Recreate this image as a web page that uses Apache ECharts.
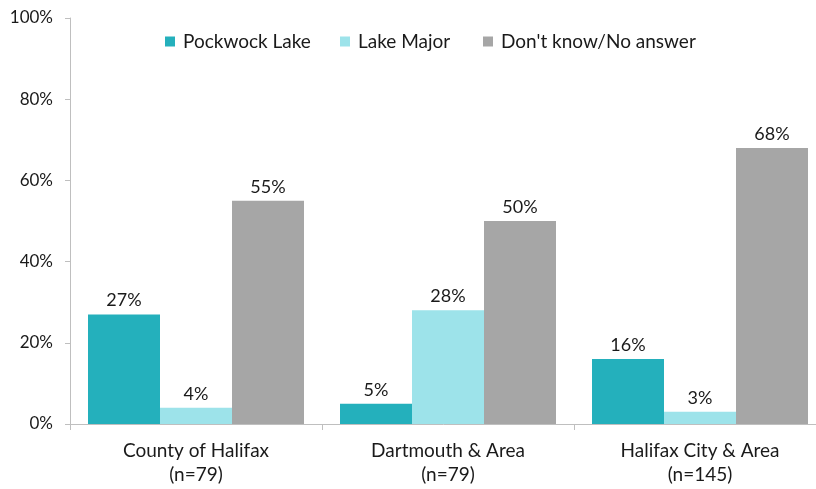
<!DOCTYPE html>
<html>
<head>
<meta charset="utf-8">
<script src="https://cdn.jsdelivr.net/npm/echarts@6/dist/echarts.min.js"></script>
<style>
  html, body { margin: 0; padding: 0; background: #fff; }
  #chart { width: 816px; height: 489px; }
</style>
</head>
<body>
<div id="chart"></div>
<script>
// Water source by area: share of respondents naming each lake
const categories = ['County of Halifax\n(n=79)', 'Dartmouth & Area\n(n=79)', 'Halifax City & Area\n(n=145)'];
const seriesNames = ['Pockwock Lake', 'Lake Major', "Don't know/No answer"];
const pockwock = [27, 5, 16];
const lakeMajor = [4, 28, 3];
const dontKnow = [55, 50, 68];
const yTicks = [0, 20, 40, 60, 80, 100];

const colors = ['#24B0BC', '#9DE3EA', '#A6A6A6'];
const font = 'Lato, "Open Sans", sans-serif';
const textColor = '#1a1a1a';
const fontSize = 18;
const wordSize = 19;

const chart = echarts.init(document.getElementById('chart'), null, { renderer: 'canvas' });

function barSeries(name, data, color) {
  return {
    name: name,
    type: 'bar',
    data: data,
    barGap: '0%',
    barCategoryGap: '14.29%',
    itemStyle: { color: color },
    label: {
      show: true,
      position: 'top',
      distance: 5,
      formatter: p => p.value + '%',
      color: textColor,
      fontFamily: font,
      fontSize: fontSize
    }
  };
}

// one legend block per series so each entry sits at its own spot
const legendLefts = [165, 340, 483];
const legends = seriesNames.map((name, i) => ({
  data: [name],
  top: 32,
  left: legendLefts[i],
  padding: 0,
  itemWidth: 10,
  itemHeight: 10,
  itemGap: 0,
  icon: 'rect',
  textStyle: { color: textColor, fontFamily: font, fontSize: wordSize, padding: [0, 0, 0, 3] }
}));

chart.setOption({
  animation: false,
  backgroundColor: '#ffffff',
  grid: { left: 70, width: 756, top: 18, bottom: 65, outerBoundsMode: 'none', containLabel: false },
  legend: legends,
  xAxis: {
    type: 'category',
    data: categories,
    axisLine: { lineStyle: { color: '#BFBFBF', width: 1 } },
    axisTick: { show: true, length: 6, lineStyle: { color: '#BFBFBF' } },
    axisLabel: {
      color: textColor,
      fontFamily: font,
      fontSize: wordSize,
      lineHeight: 24,
      margin: 15
    }
  },
  yAxis: {
    type: 'value',
    min: yTicks[0],
    max: yTicks[yTicks.length - 1],
    interval: 20,
    axisLine: { show: true, lineStyle: { color: '#BFBFBF', width: 1 } },
    axisTick: { show: true, length: 5, lineStyle: { color: '#BFBFBF' } },
    splitLine: { show: false },
    axisLabel: {
      formatter: v => v + '%',
      color: textColor,
      fontFamily: font,
      fontSize: 17,
      margin: 17
    }
  },
  series: [
    barSeries(seriesNames[0], pockwock, colors[0]),
    barSeries(seriesNames[1], lakeMajor, colors[1]),
    barSeries(seriesNames[2], dontKnow, colors[2])
  ]
});
</script>
</body>
</html>
